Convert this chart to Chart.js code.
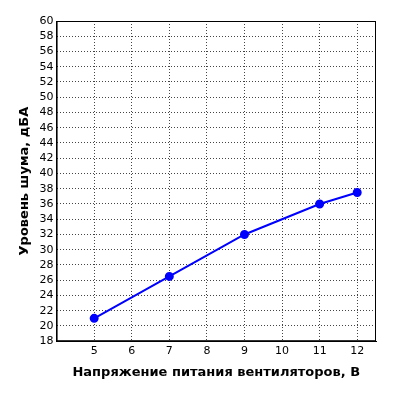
<!DOCTYPE html>
<html><head><meta charset="utf-8">
<script src="https://cdn.jsdelivr.net/npm/chart.js@4"></script>
<style>html,body{margin:0;padding:0;background:#fff}#w{width:400px;height:400px}</style>
</head><body><div id="w"><canvas id="c"></canvas></div>
<script>
const voltages = [5, 7, 9, 11, 12];
const noise = [21, 26.5, 32, 36, 37.5];
const xTicks = [5, 6, 7, 8, 9, 10, 11, 12];
const xTitle = 'Напряжение питания вентиляторов, В';
const yTitle = 'Уровень шума, дБА';
const pts = voltages.map((v, i) => ({x: v, y: noise[i]}));
Chart.defaults.font.family = 'DejaVu Sans';
new Chart(document.getElementById('c'), {
  type: 'scatter',
  data: {datasets: [{data: pts, showLine: true, borderColor: '#0000ff', backgroundColor: '#0000ff',
    borderWidth: 2, pointRadius: 3.5, pointHoverRadius: 3.5}]},
  options: {
    responsive: true, maintainAspectRatio: false, animation: false,
    layout: {padding: {top: 21, right: 24, left: 13, bottom: 16}},
    plugins: {legend: {display: false}, tooltip: {enabled: false}},
    scales: {
      x: {type: 'linear', min: 4, max: 12.5,
        afterBuildTicks: s => { s.ticks = xTicks.map(v => ({value: v})); },
        ticks: {color: '#000', font: {size: 11}},
        grid: {color: '#444', drawTicks: false},
        border: {display: true, color: '#000', width: 1, dash: [1, 2]},
        title: {display: true, text: xTitle, color: '#000', font: {size: 13, weight: 'bold'}}},
      y: {min: 18, max: 60,
        ticks: {stepSize: 2, color: '#000', font: {size: 11}, autoSkip: false},
        grid: {color: '#444', drawTicks: false},
        border: {display: true, color: '#000', width: 1, dash: [1, 2]},
        title: {display: true, text: yTitle, color: '#000', font: {size: 13, weight: 'bold'}}}
    }
  },
  plugins: [{id: 'frame', afterDraw(c) {
    const a = c.chartArea, x = c.ctx;
    x.save(); x.strokeStyle = '#000'; x.lineWidth = 1; x.setLineDash([]);
    x.strokeRect(a.left + 0.5, a.top + 0.5, a.right - a.left - 1, a.bottom - a.top - 1);
    x.restore();
  }}]
});
</script></body></html>
